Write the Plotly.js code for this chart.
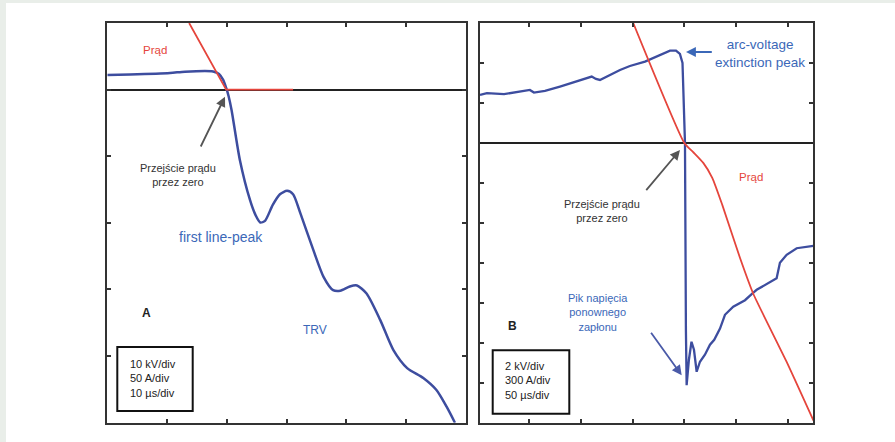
<!DOCTYPE html>
<html>
<head>
<meta charset="utf-8">
<script src="https://cdn.plot.ly/plotly-3.0.1.min.js"></script>
<style>
html,body{margin:0;padding:0;background:#ffffff;}
#chart{width:895px;height:442px;}
</style>
</head>
<body>
<div id="chart"></div>
<script>
// ---------- Panel A (10 kV/div, 50 A/div, 10 µs/div), time in µs, voltage in kV, current in A ----------
const timeA_voltage = [-20, -16.2, -9.5, -7.0, -2.3, -1.3, -0.6, -0.1, 0.3, 0.8, 2.2, 3.9, 4.8, 5.6, 6.4, 7.7, 8.9, 10.1, 11.1, 12.3, 14.5, 16.2, 17.8, 19.0, 20.6, 21.8, 23.4, 25.7, 27.9, 30.2, 32.9, 35.1, 36.8, 38.2];
const voltageA = [2.2, 2.28, 2.5, 2.7, 2.73, 2.36, 1.46, 0.26, -0.95, -3.05, -10.6, -16.6, -18.8, -19.94, -19.7, -17.3, -15.7, -15.2, -15.7, -18.5, -24.1, -28.1, -30.1, -30.2, -29.55, -29.4, -30.6, -34.6, -39.1, -41.8, -43.3, -45.1, -47.6, -50];
const timeA_current = [-6.3, -0.1, 11.1];
const currentA = [50, 0, 0];
const ticksA_time = [-10, 0, 10, 20, 30];
const ticksA_voltage = [-40, -30, -20, -10, 0];

// ---------- Panel B (2 kV/div, 300 A/div, 50 µs/div) ----------
const timeB_voltage = [-197.7, -191, -174.4, -149.4, -145.5, -134.8, -120.3, -105.8, -89.6, -85.5, -81.6, -62.2, -52.6, -38.0, -23.5, -13.8, -8.0, -4.2, -1.7, -0.3, 0.7, 1.6, 2.3, 4.5, 7.0, 9.4, 12.0, 15.2, 20.0, 24.9, 29.0, 34.6, 39.4, 47.4, 58.8, 65.5, 70.1, 89.4, 92.6, 99.1, 108.8, 124.9];
const voltageB = [2.4, 2.49, 2.44, 2.65, 2.52, 2.6, 2.82, 3.05, 3.32, 3.2, 3.15, 3.65, 3.85, 4.07, 4.4, 4.62, 4.62, 4.45, 4.0, 2.15, 0, -9.35, -12.12, -10.85, -9.95, -10.35, -11.45, -10.95, -10.6, -10.1, -9.85, -9.29, -8.6, -8.2, -7.87, -7.55, -7.35, -6.77, -6.0, -5.6, -5.27, -5.15];
const timeB_current = [-49.4, 0, 8.4, 18.4, 27.1, 36.8, 53.9, 66.8, 99.0, 125.1];
const currentB = [900, 0, -67, -150, -262, -465, -862, -1132, -1642, -2085];
const ticksB_time = [-150, -100, -50, 0, 50, 100];
const ticksB_voltage = [-12, -10, -8, -6, -4, -2, 2, 4];

const W = 895, H = 442;
const px = v => v / W;
const py = v => 1 - v / H;

const BLUE_LINE = '#3d4d9f';
const BLUE_TEXT = '#3b68b8';
const RED = '#e5453c';
const FRAME = '#333333';
const FONT = '"Liberation Sans Narrow", "Arial Narrow", "Liberation Sans", Arial, sans-serif';

const traces = [
  {x: timeA_voltage, y: voltageA, xaxis: 'x', yaxis: 'y', mode: 'lines', type: 'scatter',
   line: {color: BLUE_LINE, width: 2.5, shape: 'spline', smoothing: 0.7}, hoverinfo: 'skip'},
  {x: timeA_current, y: currentA, xaxis: 'x', yaxis: 'y2', mode: 'lines', type: 'scatter',
   line: {color: RED, width: 1.8}, hoverinfo: 'skip'},
  {x: timeB_current, y: currentB, xaxis: 'x2', yaxis: 'y4', mode: 'lines', type: 'scatter',
   line: {color: RED, width: 1.8, shape: 'spline', smoothing: 0.5}, hoverinfo: 'skip'},
  {x: timeB_voltage, y: voltageB, xaxis: 'x2', yaxis: 'y3', mode: 'lines', type: 'scatter',
   line: {color: BLUE_LINE, width: 2.3}, hoverinfo: 'skip'}
];

const yDom = [py(422.7), py(23)];
function frameAxis(extra) {
  return Object.assign({
    showline: true, linecolor: FRAME, linewidth: 2, mirror: 'ticks',
    ticks: 'inside', ticklen: 4, tickwidth: 2, tickcolor: FRAME,
    showticklabels: false, showgrid: false, zeroline: false, fixedrange: true
  }, extra);
}

const layout = {
  width: W, height: H,
  margin: {l: 0, r: 0, t: 0, b: 0, pad: 0},
  paper_bgcolor: '#e9eee9',
  plot_bgcolor: 'rgba(0,0,0,0)',
  showlegend: false,
  xaxis: frameAxis({domain: [px(107.3), px(465.7)], range: [-20, 40], tickmode: 'array', tickvals: ticksA_time, anchor: 'y'}),
  yaxis: frameAxis({domain: yDom, range: [-50, 10], tickmode: 'array', tickvals: ticksA_voltage, anchor: 'x',
                    zeroline: true, zerolinecolor: '#222222', zerolinewidth: 2}),
  yaxis2: {overlaying: 'y', anchor: 'x', range: [-250, 50], visible: false, fixedrange: true},
  xaxis2: frameAxis({domain: [px(480), px(813.3)], range: [-197.7, 124.9], tickmode: 'array', tickvals: ticksB_time, anchor: 'y3'}),
  yaxis3: frameAxis({domain: yDom, range: [-14, 6], tickmode: 'array', tickvals: ticksB_voltage, anchor: 'x2',
                     zeroline: true, zerolinecolor: '#222222', zerolinewidth: 2}),
  yaxis4: {overlaying: 'y3', anchor: 'x2', range: [-2100, 900], visible: false, fixedrange: true},
  shapes: [
    {type: 'rect', xref: 'paper', yref: 'paper', x0: px(6), x1: 1, y0: 0, y1: py(3),
     fillcolor: '#ffffff', line: {width: 0}, layer: 'below'},
    {type: 'rect', xref: 'paper', yref: 'paper', x0: px(117.3), x1: px(192.7), y0: py(411), y1: py(347),
     line: {color: '#111111', width: 2}, fillcolor: 'rgba(0,0,0,0)'},
    {type: 'rect', xref: 'paper', yref: 'paper', x0: px(492.7), x1: px(569.3), y0: py(413.7), y1: py(350.3),
     line: {color: '#111111', width: 2}, fillcolor: 'rgba(0,0,0,0)'}
  ],
  annotations: []
};

function label(text, x, y, color, size, opts) {
  layout.annotations.push(Object.assign({
    text: text, xref: 'paper', yref: 'paper', x: px(x), y: py(y),
    xanchor: 'center', yanchor: 'middle', showarrow: false,
    font: {family: FONT, size: size, color: color}
  }, opts || {}));
}
function arrow(tipX, tipY, tailX, tailY, color) {
  layout.annotations.push({
    text: '', xref: 'paper', yref: 'paper', x: px(tipX), y: py(tipY),
    ax: tailX - tipX, ay: tailY - tipY, showarrow: true,
    arrowhead: 2, arrowsize: 1.1, arrowwidth: 1.8, arrowcolor: color, standoff: 0
  });
}

// Panel A labels
label('Prąd', 154.5, 50, RED, 11.5);
label('Przejście prądu<br>przez zero', 177.5, 175, '#333333', 11);
arrow(225, 96.7, 200, 148, '#555555');
label('first line-peak', 221, 237, BLUE_TEXT, 14);
label('TRV', 315, 330, BLUE_TEXT, 12);
label('<b>A</b>', 146, 312.7, '#222222', 12);
label('10 kV/div<br>50 A/div<br>10 µs/div', 128.3, 378.7, '#222222', 11, {xanchor: 'left', align: 'left'});

// Panel B labels
label('arc-voltage<br>extinction peak', 759.5, 53.5, BLUE_TEXT, 13.5);
arrow(686, 52, 713.3, 52, BLUE_TEXT);
label('Przejście prądu<br>przez zero', 602, 211, '#333333', 11);
arrow(680, 150, 645, 191.7, '#555555');
label('Prąd', 751, 177.3, RED, 11.5);
label('Pik napięcia<br>ponownego<br>zapłonu', 597.5, 312, BLUE_TEXT, 11);
arrow(681.7, 375.3, 650, 331.3, '#4a5aa8');
label('<b>B</b>', 512.3, 326.3, '#222222', 12);
label('2 kV/div<br>300 A/div<br>50 µs/div', 503.3, 380, '#222222', 11, {xanchor: 'left', align: 'left'});

Plotly.newPlot('chart', traces, layout, {staticPlot: true, displayModeBar: false});
</script>
</body>
</html>
